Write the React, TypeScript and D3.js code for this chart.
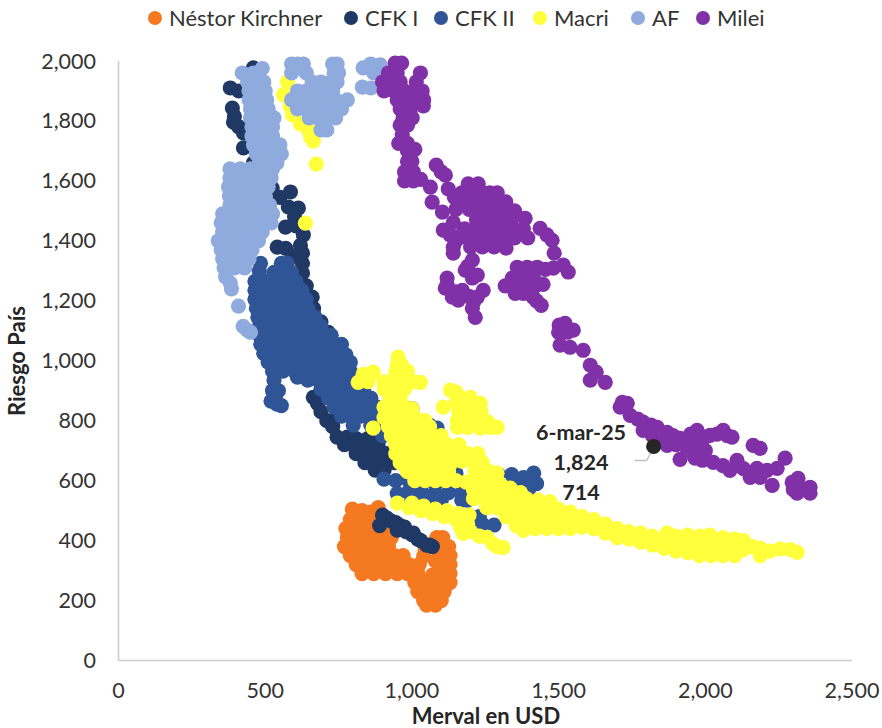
import React from "react";
import * as d3 from "d3";

type P = [number, number];

const kirchner: P[] = [
[797,505],[830,500],[860,495],[885,510],[790,470],[820,470],[850,470],[880,470],
[775,440],[805,440],[835,440],[865,440],[895,440],[925,440],[780,410],[810,410],[840,410],[870,410],[900,410],[930,410],
[770,380],[800,380],[830,380],[860,380],[890,380],[920,380],[790,350],[820,350],[850,350],[880,350],[910,350],[940,350],[970,350],
[810,320],[840,320],[870,320],[900,320],[930,320],[960,320],[990,320],[1025,320],[830,290],[870,290],[910,290],[950,290],[985,290],[1020,290],[1070,285],[1100,290],[1130,290],
[1010,260],[1040,260],[1070,260],[1100,260],[1130,260],[1020,230],[1050,230],[1080,230],[1110,230],[1040,200],[1070,200],[1100,200],[1050,185],[1080,185],
[1095,320],[1130,320],[1100,350],[1130,350],[1095,380],[1125,380],[1085,410],[1105,410],[1045,372],[1040,348],[1080,332]
];
const cfkI: P[] = [
[900,485],[890,450],[915,475],[930,465],[945,460],[960,450],[975,445],[1005,425],[1020,405],[1000,420],[1030,400],[1050,385],[1070,380],[1060,385],[980,430],[950,435],
[745,745],[780,745],[810,740],[850,740],[890,740],[770,720],[800,720],[830,720],[860,720],[885,715],[810,690],[845,690],[880,690],[915,690],[950,690],[840,660],[870,660],[905,660],[940,660],[875,635],[905,635],
[678,858],[690,830],[710,800],[732,801],[730,780],[664,878],
[524,1576],[550,1545],[586,1563],[579,1513],[613,1509],[600,1480],[605,1450],[569,1446],[630,1420],[620,1385],[627,1359],[541,1379],[570,1375],[600,1350],[627,1325],[627,1292],[640,1250],[660,1212],[665,1175],[665,1158],[690,1130],[715,1095],[700,1060],
[381,1910],[410,1900],[388,1843],[395,1815],[392,1796],[410,1780],[426,1760],[426,1710],[460,1977],[440,1950],[460,1660],[500,1620],[470,1730]
];
const cfkII: P[] = [
[555,1325],[575,1325],[484,1325],[480,1300],[530,1295],[565,1295],[590,1295],
[465,1265],[505,1265],[540,1265],[580,1265],[605,1265],[465,1235],[500,1235],[535,1235],[570,1235],[610,1235],[625,1235],
[465,1205],[500,1205],[535,1205],[570,1205],[605,1205],[640,1205],[470,1175],[505,1175],[540,1175],[575,1175],[610,1175],[645,1175],
[475,1145],[510,1145],[545,1145],[580,1145],[615,1145],[650,1145],[670,1145],[480,1115],[515,1115],[550,1115],[585,1115],[620,1115],[655,1115],[690,1115],
[480,1085],[515,1085],[550,1085],[585,1085],[620,1085],[655,1085],[690,1085],[725,1085],[485,1055],[520,1055],[555,1055],[590,1055],[625,1055],[660,1055],[695,1055],[730,1055],[760,1055],
[495,1025],[530,1025],[565,1025],[600,1025],[635,1025],[670,1025],[705,1025],[740,1025],[775,1020],[510,995],[545,995],[580,995],[615,995],[650,995],[685,995],[720,995],[755,995],[790,995],
[525,965],[560,965],[600,965],[640,965],[680,965],[715,965],[750,965],[790,965],
[530,935],[525,900],[545,900],[520,865],[540,855],[555,850],[535,880],
[610,945],[645,935],[680,935],[720,935],[760,935],[800,935],[690,905],[725,905],[760,905],[795,905],[835,905],[715,875],[750,875],[785,875],[820,875],[860,875],
[735,845],[770,845],[805,845],[840,845],[880,845],[920,845],[760,815],[790,815],[825,815],[860,815],[900,815],[940,815],[980,815],[800,785],[860,785],[905,785],[945,785],[985,785],[1020,785],[1060,785],
[900,750],[945,750],[985,750],[1020,750],[1070,750],[1086,775],[1000,840],
[905,605],[945,600],[990,600],[1030,620],[1075,620],[1120,620],[1150,625],[950,557],[990,565],[1035,590],[1080,590],[1125,590],[1170,590],[990,560],[1035,560],[1080,560],[1125,560],[1170,560],[1000,535],[1060,535],[1100,535],[1170,535],[1190,535],
[1200,480],[1240,455],[1280,452],[1230,480],[1295,620],[1340,620],[1380,610],[1415,625],[1425,590],[1400,575],[1350,590]
];
const macri: P[] = [
[953,1012],[950,985],[965,985],[834,955],[868,962],[945,960],[985,965],[817,928],[850,930],[905,930],[940,930],[975,930],[1005,930],[1029,928],[905,905],[940,905],[975,905],[925,875],[960,875],
[905,845],[940,845],[975,845],[1000,840],[905,810],[940,810],[975,810],[1010,810],[1045,800],[868,775],[920,780],[955,780],[990,780],[1025,780],[1060,780],
[930,750],[965,750],[1000,750],[1035,750],[1070,750],[1100,750],[945,720],[980,720],[1015,720],[1050,720],[1085,720],[1120,720],[1160,720],
[945,690],[980,690],[1015,690],[1050,690],[1085,690],[1120,690],[1155,690],[1190,690],[1225,690],[960,660],[995,660],[1030,660],[1065,660],[1100,660],[1135,660],[1170,665],[1205,665],[1240,660],
[985,630],[1020,630],[1055,630],[1090,630],[1125,630],[1215,630],[1240,630],[1265,630],[1290,625],[1010,600],[1045,600],[1080,600],[1115,600],[1150,600],[1185,595],
[1230,600],[1265,600],[1300,590],[1335,575],[1370,560],[1210,570],[1245,570],[1280,570],[1315,570],[1350,560],[1210,540],[1245,540],[1280,540],[1315,540],[1350,540],[1390,540],[1430,535],[1470,530],
[1255,510],[1290,510],[1325,510],[1360,510],[1395,510],[1320,480],[1355,480],[1355,450],
[1380,434],[1380,470],[1420,440],[1420,475],[1420,510],[1460,440],[1460,475],[1460,510],[1500,440],[1500,470],[1500,505],[1540,440],[1540,470],[1540,495],
[1580,445],[1580,480],[1620,440],[1620,470],[1660,425],[1660,455],[1700,410],[1700,440],[1740,405],[1740,430],[1780,395],[1780,425],[1820,385],[1820,415],
[1860,375],[1860,405],[1870,425],[1900,365],[1900,395],[1900,415],[1940,360],[1940,390],[1940,418],[1980,350],[1980,380],[1980,415],[2020,350],[2020,380],[2015,418],
[2060,350],[2060,380],[2060,410],[2100,350],[2100,380],[2100,405],[2130,370],[2130,400],[2160,380],[2187,350],[2187,375],[2220,365],[2255,372],[2290,370],[2313,361],
[950,525],[990,510],[1030,500],[1070,490],[1110,480],[1150,470],[1190,455],[1000,525],[1040,515],[1080,505],[1120,500],[1160,490],[1195,485],[1175,424],[1165,445],[1200,430],
[1230,415],[1257,411],[1275,390],[1311,377],[1290,380],
[1131,902],[1150,895],[1160,880],[1199,878],[1150,860],[1190,860],[1233,858],[1107,845],[1160,830],[1200,830],[1235,830],[1155,800],[1190,800],[1225,800],[1260,795],[1155,778],[1190,778],[1233,775],[1265,778],[1291,778],
[576,1930],[562,1887],[585,1850],[593,1820],[620,1790],[647,1770],[655,1745],[664,1733],[674,1656],[637,1459]
];
const af: P[] = [
[422,1960],[460,1960],[490,1975],[440,1930],[470,1930],[495,1930],[445,1900],[475,1900],[500,1900],[445,1870],[475,1870],[505,1870],[450,1840],[480,1840],[510,1840],
[450,1810],[480,1810],[515,1810],[530,1810],[455,1780],[490,1780],[525,1780],[455,1750],[490,1750],[525,1750],[460,1720],[495,1720],[530,1720],[550,1720],[470,1690],[505,1690],[545,1690],[555,1690],[480,1660],[510,1660],[540,1660],
[380,1640],[415,1640],[450,1640],[490,1640],[525,1640],[380,1610],[415,1610],[450,1610],[490,1610],[520,1610],[375,1580],[410,1580],[445,1580],[480,1580],[510,1580],
[378,1550],[410,1550],[445,1550],[480,1550],[500,1550],[380,1520],[410,1520],[445,1520],[480,1520],[515,1520],[355,1490],[385,1490],[420,1490],[455,1490],[490,1490],[525,1490],
[350,1460],[385,1460],[420,1460],[455,1460],[490,1460],[520,1460],[355,1430],[390,1430],[425,1430],[460,1430],[490,1430],[340,1400],[375,1400],[410,1400],[445,1400],[477,1400],
[350,1370],[385,1370],[420,1370],[455,1370],[355,1340],[390,1340],[425,1340],[445,1340],[360,1310],[395,1310],[430,1310],[365,1280],[381,1259],[385,1240],[409,1182],[425,1115],[439,1102],[450,1095],
[590,1990],[610,1990],[630,1990],[730,1990],[745,1990],[590,1960],[640,1960],[735,1960],[750,1960],[660,1930],[690,1930],[725,1930],[745,1930],
[610,1900],[640,1900],[670,1900],[700,1900],[730,1900],[590,1870],[620,1870],[650,1870],[680,1870],[710,1870],[740,1870],[780,1870],[610,1840],[640,1840],[670,1840],[700,1840],[730,1840],[760,1840],
[650,1810],[680,1810],[710,1810],[740,1810],[690,1770],[710,1770],[831,1913],[860,1910],[834,1977],[860,1990],[892,1987],[870,1960]
];
const milei: P[] = [
[943,1993],[965,1993],[920,1960],[950,1960],[1029,1960],[900,1930],[935,1930],[960,1930],[1015,1930],[905,1900],[940,1900],[975,1900],[1015,1900],[1035,1900],[950,1870],[985,1870],[1020,1870],[1040,1870],[960,1840],[995,1840],[1039,1850],
[970,1810],[1001,1810],[960,1786],[985,1786],[967,1755],[955,1725],[985,1725],[985,1700],[1010,1705],[985,1665],[1000,1665],[975,1630],[1005,1630],[975,1600],[1005,1600],[1030,1605],
[1083,1653],[1114,1619],[1100,1630],[1063,1579],[1069,1529],[1104,1496],[1124,1573],[1145,1545],
[1192,1590],[1226,1590],[1170,1560],[1200,1560],[1240,1560],[1265,1560],[1291,1560],[1170,1530],[1200,1530],[1240,1530],[1280,1530],[1320,1530],[1150,1505],[1195,1505],[1230,1500],[1270,1500],[1310,1500],[1350,1500],
[1220,1470],[1260,1470],[1300,1470],[1340,1470],[1386,1475],[1180,1440],[1220,1440],[1260,1440],[1300,1440],[1340,1440],[1380,1440],[1437,1442],[1460,1420],[1190,1410],[1230,1410],[1270,1410],[1310,1410],[1350,1410],[1395,1410],[1478,1402],[1485,1359],
[1200,1380],[1240,1380],[1280,1380],[1321,1376],[1141,1462],[1107,1436],[1130,1420],[1170,1420],[1150,1400],[1141,1379],[1141,1359],
[1206,1336],[1182,1302],[1190,1315],[1206,1276],[1223,1286],[1120,1276],[1120,1255],[1114,1242],[1138,1212],[1158,1202],[1172,1235],[1150,1230],[1195,1215],[1223,1212],[1243,1235],[1206,1175],[1216,1145],[1210,1195],
[1359,1312],[1393,1312],[1427,1312],[1455,1305],[1482,1309],[1516,1319],[1533,1296],[1342,1276],[1380,1276],[1415,1276],[1318,1250],[1352,1250],[1386,1250],[1420,1250],[1447,1255],[1352,1225],[1380,1225],[1413,1212],[1425,1200],[1441,1185],
[1502,1119],[1522,1125],[1500,1095],[1530,1095],[1550,1102],[1505,1052],[1539,1045],[1584,1035],[1608,985],[1628,962],[1608,935],[1659,928],
[1717,861],[1734,858],[1710,845],[1744,818],[1770,805],[1788,795],[1788,768],[1815,785],[1836,778],[1820,750],[1870,761],[1850,740],[1870,718],[1890,750],[1914,741],[1900,720],[1930,730],[1950,755],[1972,768],[1948,725],[1985,725],[2000,745],[2016,751],[2040,755],[2061,768],[2075,750],[2091,745],
[1914,671],[1960,691],[1965,675],[1990,668],[2027,661],[2060,650],[2084,634],[2108,668],[2130,640],[2153,611],[2176,641],[2187,611],[2210,634],[2245,641],[2228,584],[2272,675],[2163,718],[2187,708],[2000,700],[1940,700],
[2296,594],[2316,608],[2313,558],[2357,578],[2357,558],[2335,570],[2300,570]
];
const lastPoint: P = [1824, 714];

const seriesNames = ["Néstor Kirchner", "CFK I", "CFK II", "Macri", "AF", "Milei"];
const seriesColors = ["#f47920", "#1f3864", "#2f5597", "#ffff3b", "#8faadc", "#8031a7"];
const seriesData = [kirchner, cfkI, cfkII, macri, af, milei];
const legendDotX = [155, 351, 441, 540, 638, 703];
const xTicks = [0, 500, 1000, 1500, 2000, 2500];
const yTicks = [0, 200, 400, 600, 800, 1000, 1200, 1400, 1600, 1800, 2000];
const annotationLines = ["6-mar-25", "1,824", "714"];

const W = 882, H = 728;
const FONT = "Lato, 'Open Sans', sans-serif";
const TEXT = "#333333";

export default function App() {
  const x = d3.scaleLinear().domain([0, 2500]).range([118.5, 852]);
  const y = d3.scaleLinear().domain([0, 2000]).range([660.5, 61]);
  const fmt = d3.format(",");
  const R = 7.6;
  const [lx, ly] = [x(lastPoint[0]), y(lastPoint[1])];
  return (
    <svg width={W} height={H} viewBox={`0 0 ${W} ${H}`} style={{ position: "absolute", left: 0, top: 0, background: "#fff" }} fontFamily={FONT}>
      <line x1={x(0)} x2={x(2500)} y1={y(0)} y2={y(0)} stroke="#cfcbcb" strokeWidth={1.6} />
      <line x1={x(0)} x2={x(0)} y1={y(0)} y2={y(2000)} stroke="#cfcbcb" strokeWidth={1.6} />
      {xTicks.map((t) => (
        <text key={t} x={x(t)} y={698} textAnchor="middle" fontSize={21.5} fill={TEXT}>{fmt(t)}</text>
      ))}
      {yTicks.map((t) => (
        <text key={t} x={96} y={y(t) + 7.5} textAnchor="end" fontSize={21.5} fill={TEXT}>{fmt(t)}</text>
      ))}
      {seriesData.map((pts, i) => (
        <g key={seriesNames[i]} fill={seriesColors[i]}>
          {pts.map((p, j) => (
            <circle key={j} cx={x(p[0])} cy={y(p[1])} r={R} />
          ))}
        </g>
      ))}
      <polyline points={`${lx - 19},${ly + 14} ${lx - 7},${ly + 14} ${lx},${ly}`} fill="none" stroke="#bfbfbf" strokeWidth={1.3} />
      <circle cx={lx} cy={ly} r={R} fill="#262626" />
      {annotationLines.map((t, i) => (
        <text key={t} x={581} y={440 + i * 30} textAnchor="middle" fontSize={21.5} fontWeight={700} fill="#262626">{t}</text>
      ))}
      {seriesNames.map((n, i) => (
        <g key={n}>
          <circle cx={legendDotX[i]} cy={18} r={7} fill={seriesColors[i]} />
          <text x={legendDotX[i] + 14} y={25.5} fontSize={22} fill={TEXT}>{n}</text>
        </g>
      ))}
      <text x={486} y={724} textAnchor="middle" fontSize={22} fontWeight={700} fill="#262626">Merval en USD</text>
      <text transform="translate(25,361) rotate(-90)" textAnchor="middle" fontSize={22} fontWeight={700} fill="#262626">Riesgo País</text>
    </svg>
  );
}
